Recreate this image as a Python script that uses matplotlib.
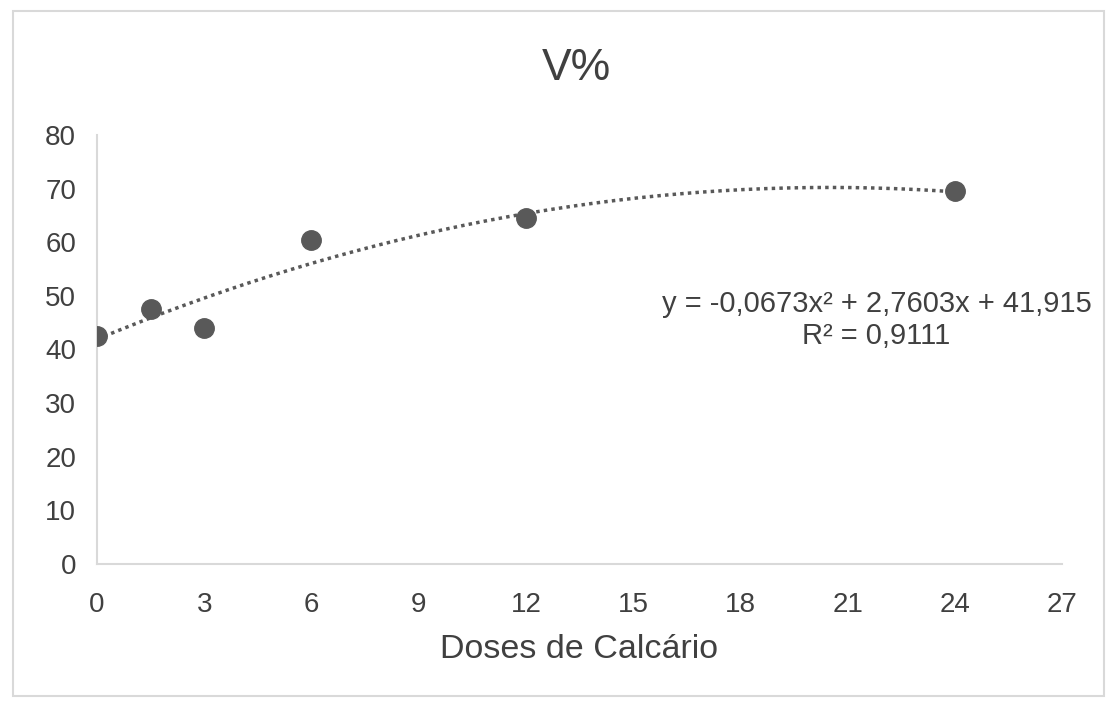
import matplotlib
import numpy as np

matplotlib.use("Agg")
import matplotlib.pyplot as plt  # noqa: E402
from matplotlib.patches import Rectangle  # noqa: E402

plt.rcParams["font.family"] = ["Liberation Sans", "DejaVu Sans"]

# data
doses = [0, 1.5, 3, 6, 12, 24]
v_percent = [42.5, 47.6, 44.0, 60.4, 64.5, 69.6]
trend_coeffs = [-0.0673, 2.7603, 41.915]
trend_range = (0, 24)
x_ticks = [0, 3, 6, 9, 12, 15, 18, 21, 24, 27]
y_ticks = [0, 10, 20, 30, 40, 50, 60, 70, 80]

TEXT = "#404040"
MARK = "#595959"
AXIS = "#d9d9d9"

fig = plt.figure(figsize=(11.11, 7.02), dpi=100)
ax = fig.add_axes([0.0873, 0.1966, 0.8687, 0.6111])

trend_x = np.linspace(*trend_range, 200)
ax.plot(trend_x, np.polyval(trend_coeffs, trend_x), color=MARK, linewidth=2.5,
        linestyle=(0, (1, 1.2)), zorder=2)
ax.plot(doses, v_percent, linestyle="none", marker="o", markersize=14,
        color=MARK, zorder=3)

ax.set_xlim(0, 27)
ax.set_ylim(0, 80)
ax.set_xticks(x_ticks)
ax.set_yticks(y_ticks)
ax.tick_params(length=0, labelsize=20, labelcolor=TEXT)
ax.tick_params(axis="x", pad=20)
ax.tick_params(axis="y", pad=15)
for side in ("top", "right"):
    ax.spines[side].set_visible(False)
for side in ("left", "bottom"):
    ax.spines[side].set_color(AXIS)
    ax.spines[side].set_linewidth(1.5)
ax.set_xlabel("Doses de Calcário", fontsize=24.5, color=TEXT, labelpad=12)

fig.text(0.519, 0.903, "V%", fontsize=32, color=TEXT, ha="center", va="center")
fig.text(0.789, 0.544, "y = -0,0673x² + 2,7603x + 41,915\nR² = 0,9111",
         fontsize=21, color=TEXT, ha="center", va="center", linespacing=1.15)

fig.patches.append(Rectangle((0.012, 0.008), 0.982, 0.976, transform=fig.transFigure,
                             fill=False, edgecolor=AXIS, linewidth=1.5))

fig.savefig("out.png", dpi=100)
